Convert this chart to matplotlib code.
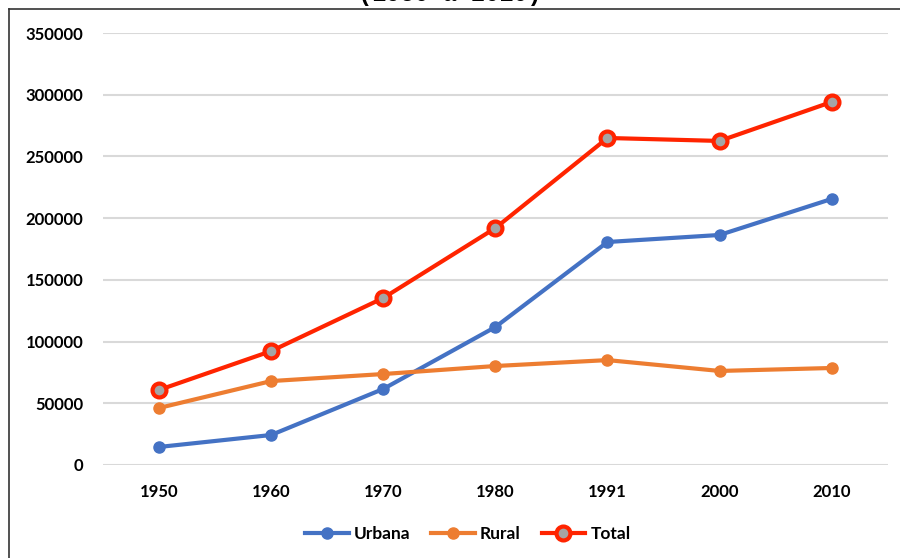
import matplotlib.pyplot as plt
from matplotlib.lines import Line2D

years = ["1950", "1960", "1970", "1980", "1991", "2000", "2010"]
urbana = [14600, 24300, 61600, 111800, 180700, 186400, 215600]
rural = [46200, 68000, 73700, 80200, 85000, 76200, 78600]
total = [60800, 92300, 135300, 192000, 265000, 262600, 294200]

plt.rcParams['font.family'] = ['Lato', 'DejaVu Sans']

fig = plt.figure(figsize=(9, 5.58), dpi=100)
ax = fig.add_axes([0.1144, 0.1667, 0.872, 0.774])

x = range(len(years))
ax.plot(x, urbana, color="#4472C4", lw=3, marker="o", ms=8, label="Urbana", zorder=3)
ax.plot(x, rural, color="#ED7D31", lw=3, marker="o", ms=8, label="Rural", zorder=3)
ax.plot(x, total, color="#FF2400", lw=3, marker="o", ms=10, mfc="#A5A5A5",
        mec="#FF2400", mew=3, label="Total", zorder=4)

ax.set_xlim(-0.5, 6.5)
ax.set_ylim(0, 350000)
ax.set_yticks(range(0, 350001, 50000))
ax.set_xticks(list(x))
ax.set_xticklabels(years)
ax.yaxis.grid(True, color="#D9D9D9", lw=1.5)
ax.set_axisbelow(True)
for s in ax.spines.values():
    s.set_visible(False)
ax.tick_params(length=0, labelsize=12, colors="black", pad=14)
ax.tick_params(axis="x", pad=14)
for lab in ax.get_xticklabels() + ax.get_yticklabels():
    lab.set_fontweight("bold")

leg = ax.legend(loc="upper center", bbox_to_anchor=(0.465, -0.105), ncol=3, frameon=False,
                prop={"size": 12.5, "weight": "bold"}, handlelength=2.5, columnspacing=1.2,
                handletextpad=0.3)

# outer frame (left and top edges visible)
fig.add_artist(Line2D([9/900, 9/900], [0, 1 - 9/558], color="#333333", lw=1.2))
fig.add_artist(Line2D([9/900, 1], [1 - 9/558, 1 - 9/558], color="#333333", lw=1.2))

# title cut off at top
fig.text(0.5, 1 - 6/558, "(1950 a 2010)", ha="center", va="bottom", fontsize=17,
         fontweight="bold", family=["Liberation Mono", "DejaVu Sans Mono"])

fig.savefig("out.png", dpi=100)
